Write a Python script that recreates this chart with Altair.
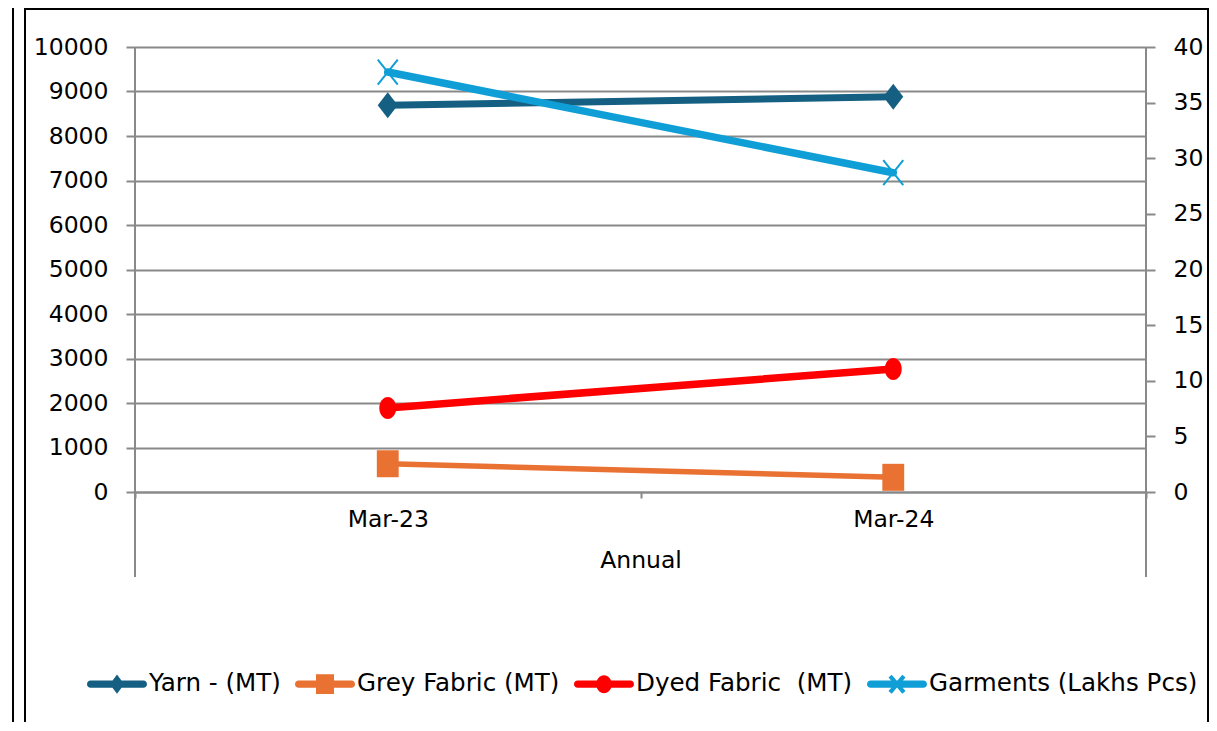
import math
import altair as alt
import pandas as pd

# ---------------- data ----------------
periods = ["Mar-23", "Mar-24"]
series_names = ["Yarn - (MT)", "Grey Fabric (MT)", "Dyed Fabric\u00a0 (MT)", "Garments (Lakhs Pcs)"]
yarn = [8690, 8880]
grey = [635, 330]
dyed = [1890, 2765]
garments = [37.75, 28.7]
left_ticks = [0, 1000, 2000, 3000, 4000, 5000, 6000, 7000, 8000, 9000, 10000]
right_ticks = [0, 5, 10, 15, 20, 25, 30, 35, 40]
colors = ["#156082", "#E97132", "#FF0000", "#0F9ED5"]

FONT = "DejaVu Sans"
GRID = "#898989"
W, H = 1011, 445

# ---------------- marker / legend symbol paths ----------------
def fmt(v):
    return f"{v:.3f}"

def poly(pts):
    area = sum(pts[i][0] * pts[(i + 1) % len(pts)][1] - pts[(i + 1) % len(pts)][0] * pts[i][1]
               for i in range(len(pts)))
    if area < 0:
        pts = pts[::-1]
    return "M" + "L".join(f"{fmt(x)},{fmt(y)}" for x, y in pts) + "Z"

def thick_x(a, b, t):
    L = math.hypot(a, b)
    out = ""
    for (x1, y1, x2, y2) in [(-a, -b, a, b), (-a, b, a, -b)]:
        dx, dy = (x2 - x1) / (2 * L), (y2 - y1) / (2 * L)
        nx, ny = -dy * t, dx * t
        out += poly([(x1 + nx, y1 + ny), (x2 + nx, y2 + ny), (x2 - nx, y2 - ny), (x1 - nx, y1 - ny)])
    return out

BAR = "M-0.88,-0.12H0.88A0.12,0.12 0 0,1 0.88,0.12H-0.88A0.12,0.12 0 0,1 -0.88,-0.12Z"
legend_paths = [
    BAR + "M0,-0.32L0.24,0L0,0.32L-0.24,0Z",
    BAR + "M-0.3,-0.33H0.3V0.33H-0.3Z",
    BAR + "M0.26,0A0.26,0.3 0 1,1 -0.26,0A0.26,0.3 0 1,1 0.26,0Z",
    BAR + thick_x(0.23, 0.27, 0.07),
]

DIAMOND = "M0,-1L0.77,0L0,1L-0.77,0Z"
SQUARE = "M-0.81,-1H0.81V1H-0.81Z"
ELLIPSE = "M0.77,0A0.77,1 0 1,1 -0.77,0A0.77,1 0 1,1 0.77,0Z"
CROSS = "M-0.8,-1L0.8,1M-0.8,1L0.8,-1"

LBL = dict(labelFont=FONT, labelFontSize=23.5, labelColor="black")

# ---------------- encodings ----------------
xscale = alt.Scale(domain=periods, paddingInner=0, paddingOuter=0)
xaxis = alt.Axis(title="Annual", tickBand="extent", labelAngle=0, domain=True,
                 domainColor=GRID, domainWidth=2, ticks=True, tickColor=GRID,
                 tickWidth=2, tickSize=6, labelPadding=9, titlePadding=18, grid=False,
                 titleFont=FONT, titleFontSize=23.5, titleColor="black",
                 titleFontWeight="normal", **LBL)
X = alt.X("period:N", scale=xscale, axis=xaxis)

yl_axis = alt.Axis(orient="left", values=left_ticks, format="d", grid=True, gridColor=GRID,
                   gridWidth=2, domain=False, ticks=True, tickColor=GRID, tickWidth=2,
                   tickSize=9, labelPadding=18, title=None, **LBL)
YL = alt.Y("value:Q", scale=alt.Scale(domain=[0, 10000], nice=False), axis=yl_axis)

yr_axis = alt.Axis(orient="right", values=right_ticks, format="d", grid=False, domain=False,
                   ticks=True, tickColor=GRID, tickWidth=2, tickSize=9,
                   labelPadding=18, title=None, **LBL)
YR = alt.Y("value:Q", scale=alt.Scale(domain=[0, 40], nice=False), axis=yr_axis)


def frame(vals):
    return pd.DataFrame({"period": periods, "value": vals})


def series_layers(vals, color, width, shape, size, Y, filled=True):
    base = alt.Chart(frame(vals))
    line = base.mark_line(color=color, strokeWidth=width, strokeCap="round",
                          strokeJoin="round").encode(x=X, y=Y)
    if filled:
        pts = base.mark_point(shape=shape, size=size, filled=True, color=color,
                              opacity=1, strokeWidth=0).encode(x=X, y=Y)
    else:
        pts = base.mark_point(shape=shape, size=size, filled=False, color=color,
                              opacity=1, strokeWidth=2).encode(x=X, y=Y)
    return [line, pts]


left = alt.layer(
    *series_layers(yarn, colors[0], 7, DIAMOND, 676, YL),
    *series_layers(grey, colors[1], 5.5, SQUARE, 729, YL),
    *series_layers(dyed, colors[2], 7.5, ELLIPSE, 484, YL),
)
right = alt.layer(*series_layers(garments, colors[3], 7.5, CROSS, 625, YR, filled=False))

leg = alt.Legend(orient="none", legendX=-48, legendY=607, direction="horizontal",
                 columns=4, title=None, symbolSize=3600, symbolStrokeWidth=0,
                 labelFontSize=24.6, labelFont=FONT, labelColor="black", labelOffset=2,
                 columnPadding=14, labelLimit=500)
legend_layer = alt.Chart(pd.DataFrame({"series": series_names})).transform_filter(
    "false"
).mark_point(filled=True, opacity=1).encode(
    color=alt.Color("series:N", scale=alt.Scale(domain=series_names, range=colors), legend=leg),
    shape=alt.Shape("series:N", scale=alt.Scale(domain=series_names, range=legend_paths), legend=leg),
)

one = pd.DataFrame({"k": [0]})
def vrule(x, y1, y2, color, w=2):
    return alt.Chart(one).mark_rule(color=color, strokeWidth=w).encode(
        x=alt.value(x), y=alt.value(y1), y2=alt.value(y2))

def hrule(x1, x2, y, color, w=2):
    return alt.Chart(one).mark_rule(color=color, strokeWidth=w).encode(
        x=alt.value(x1), x2=alt.value(x2), y=alt.value(y))

BOTTOM = 680
decor = [
    vrule(0, 0, 530, GRID),
    vrule(W, 0, 530, GRID),
    vrule(-110, -38, BOTTOM, "black"),
    vrule(1073, -38, BOTTOM, "black"),
    hrule(-111, 1074, -38, "black"),
    vrule(-122, -40, BOTTOM, "black"),
]

chart = alt.layer(left, right, legend_layer, *decor).resolve_scale(
    y="independent"
).properties(
    width=W, height=H,
    background="white",
    autosize=alt.AutoSizeParams(type="none"),
    padding={"left": 127, "top": 39, "right": 63, "bottom": 230},
).configure_view(strokeWidth=0)

chart.save("out.html", embed_options={"renderer": "svg", "actions": False})
